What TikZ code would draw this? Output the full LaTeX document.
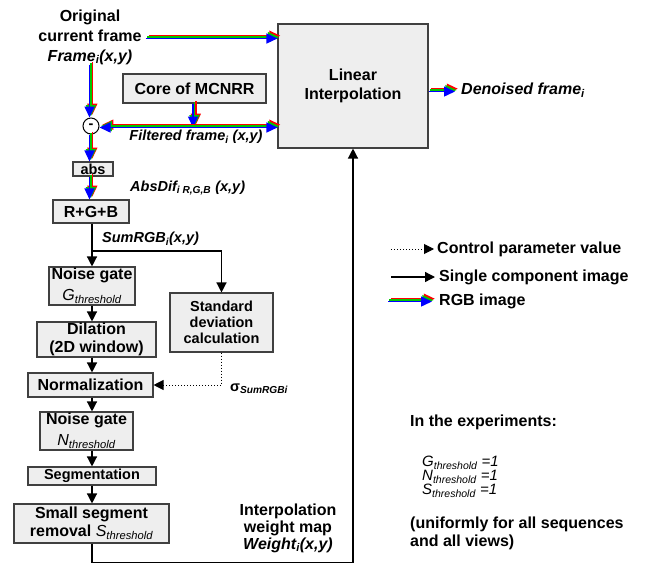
\documentclass[tikz,border=0pt]{standalone}
\usepackage{fontspec}
\setmainfont{Liberation Sans}
\usetikzlibrary{arrows.meta,calc}
\definecolor{boxfill}{HTML}{EEEEEE}
\definecolor{boxline}{HTML}{404040}
\definecolor{rgbR}{HTML}{FF0000}
\definecolor{rgbG}{HTML}{00C800}
\definecolor{rgbB}{HTML}{0000FF}
\newcommand{\fbig}{\fontsize{16}{19}\selectfont\bfseries}
\newcommand{\fsmall}{\fontsize{14.5}{16}\selectfont\bfseries}
\newcommand{\thr}{\textsubscript{\itshape threshold}}
\newcommand{\rgbarr}[1]{%
  \draw[rgbline,rgbR,transform canvas={shift={(2.8pt,2.8pt)}}] #1;
  \draw[rgbline,rgbG,transform canvas={shift={(1.4pt,1.4pt)}}] #1;
  \draw[rgbline,rgbB] #1;}
\begin{document}
\begin{tikzpicture}[x=1pt,y=-1pt,
  box/.style={draw=boxline, fill=boxfill, line width=1.1pt, inner sep=0pt, align=center, font=\fbig},
  sbox/.style={box, font=\fsmall},
  txt/.style={inner sep=0pt, font=\fbig},
  stxt/.style={inner sep=0pt, font=\fsmall},
  arr/.style={line width=1.3pt, -{Triangle[length=10pt,width=10pt]}},
  dotarr/.style={line width=1pt, dotted, -{Triangle[length=10pt,width=10pt]}},
  rgbline/.style={line width=1.5pt, -{Triangle[length=11pt,width=10pt]}}]
\useasboundingbox (0,0) rectangle (649,565);
\coordinate (col) at (92,0);
% boxes
\node[box, minimum width=150, minimum height=124] (big) at (353,86) {Linear\\Interpolation};
\node[box, minimum width=143, minimum height=29] (core) at (194.5,88.5) {Core of MCNRR};
\node[circle, draw=black, fill=white, line width=1pt, minimum size=16, inner sep=0pt, font=\fsmall] (circ) at (91,126) {-};
\node[sbox, minimum width=40, minimum height=14] (abs) at (93,169) {abs};
\node[box, minimum width=76, minimum height=23] (rgb) at (91,211.5) {R+G+B};
\node[box, minimum width=86, minimum height=38, font=\fontsize{16}{21}\selectfont\bfseries] (ng1) at (92,286) {Noise gate\\{\mdseries\itshape G\thr}};
\node[box, minimum width=119, minimum height=35, font=\fontsize{16}{18}\selectfont\bfseries] (dil) at (96.5,339.5) {Dilation\\(2D window)};
\node[sbox, minimum width=103, minimum height=59] (std) at (221.5,322.5) {Standard\\deviation\\calculation};
\node[box, minimum width=125, minimum height=24] (norm) at (90.5,385) {Normalization};
\node[box, minimum width=93, minimum height=38, font=\fontsize{16}{21}\selectfont\bfseries] (ng2) at (86.5,431) {Noise gate\\{\mdseries\itshape N\thr}};
\node[sbox, minimum width=128, minimum height=18] (seg) at (92,476) {Segmentation};
\node[box, minimum width=155, minimum height=39, font=\fontsize{16}{18}\selectfont\bfseries] (ssr) at (91.5,523.5) {Small segment\\removal {\mdseries\itshape S\thr}};
% labels
\node[txt, align=center, inner xsep=4pt, font=\fontsize{16}{20}\selectfont\bfseries] (orig) at (90,37) {Original\\current frame\\\textit{Frame\textsubscript{i}(x,y)}};
\node[txt, anchor=west] (den) at (461,90) {\textit{Denoised frame\textsubscript{i}}};
\node[stxt] (filt) at (196,137) {\textit{Filtered frame\textsubscript{i} (x,y)}};
\node[stxt, anchor=west] (absd) at (130,188) {\textit{AbsDif\textsubscript{i R,G,B} (x,y)}};
\node[stxt, anchor=west] (sumt) at (102,239) {\textit{SumRGB\textsubscript{i}(x,y)}};
\node[stxt, anchor=west] (sig) at (230,389) {σ\textsubscript{\textit{SumRGBi}}};
\node[txt, align=center, font=\fontsize{16}{17}\selectfont\bfseries] (wm) at (288,528) {Interpolation\\weight map\\\textit{Weight\textsubscript{i}(x,y)}};
% RGB connectors
\rgbarr{([yshift=-1.5pt]orig.east) -- ([yshift=-1.5pt]orig.east -| big.west)}
\rgbarr{([xshift=-1.5pt]orig.south -| circ) -- ([xshift=-1.5pt]circ.north)}
\coordinate (jn) at ([xshift=-1.5pt,yshift=-1.5pt]core.south |- circ);
\rgbarr{([xshift=-1.5pt]core.south) -- (jn)}
\rgbarr{(jn) -- ([yshift=-1.5pt]circ.east)}
\rgbarr{(jn) -- ([yshift=-1.5pt]circ -| big.west)}
\rgbarr{([xshift=-1.5pt]circ.south) -- ([xshift=-1.5pt]circ.south |- abs.north)}
\rgbarr{([xshift=-1.5pt]abs.south -| circ) -- ([xshift=-1.5pt]circ |- rgb.north)}
\rgbarr{([yshift=-1.5pt]big.east |- den) -- ([xshift=-6pt,yshift=-1.5pt]den.west)}
% single component connectors
\coordinate (br) at (92,251);
\draw[arr] (rgb.south -| col) -- (ng1.north -| col);
\draw[arr] (br) -| (std.north);
\draw[arr] (ng1.south -| col) -- (dil.north -| col);
\draw[arr] (dil.south -| col) -- (norm.north -| col);
\draw[dotarr] (std.south) |- (norm.east);
\draw[arr] (norm.south -| col) -- (ng2.north -| col);
\draw[arr] (ng2.south -| col) -- (seg.north -| col);
\draw[arr] (seg.south -| col) -- (ssr.north -| col);
\draw[arr] (ssr.south -| col) -- ++(0,19) -| (big.south);
% legend
\coordinate (lg1) at (391,249);
\coordinate (lg2) at (391,277);
\coordinate (lg3) at (388,301.5);
\node[txt, anchor=west, inner xsep=3pt] (lt1) at (434,249) {Control parameter value};
\node[txt, anchor=west, inner xsep=4pt] (lt2) at (435,277) {Single component image};
\node[txt, anchor=west, inner xsep=7pt] (lt3) at (432,301.5) {RGB image};
\draw[dotarr] (lg1) -- (lt1.west);
\draw[arr] (lg2) -- (lt2.west);
\rgbarr{(lg3) -- (lt3.west)}
% experiments
\node[txt, anchor=west] (exp) at (410,422) {In the experiments:};
\node[inner sep=0pt, anchor=west, align=left, font=\fontsize{15}{14}\selectfont\itshape] (vals) at (422,477) {G\thr{} =1\\N\thr{} =1\\S\thr{} =1};
\node[txt, anchor=west, align=left, font=\fontsize{16}{18}\selectfont\bfseries] (unif) at (410,533) {(uniformly for all sequences\\and all views)};
\end{tikzpicture}
\end{document}
